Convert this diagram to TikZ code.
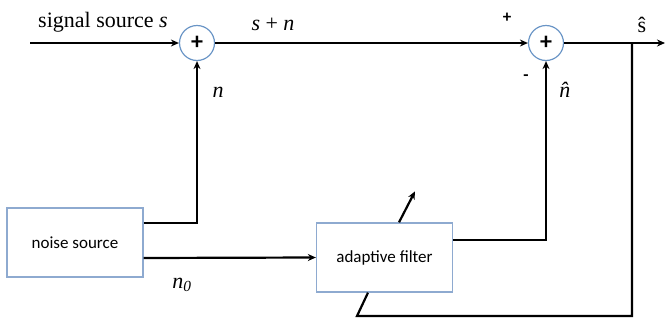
\documentclass[tikz,border=0pt]{standalone}
\usepackage{fontspec}
\setmainfont{Liberation Serif}
\newfontfamily\boxfont{Carlito}
\usetikzlibrary{arrows.meta}
\definecolor{rimblue}{HTML}{6A95C6}
\definecolor{boxblue}{HTML}{8EAAD0}
\tikzset{
  sumnode/.style={circle, draw=rimblue, line width=1.2pt, minimum size=35pt, inner sep=0pt,
    font=\boxfont\bfseries\fontsize{24}{24}\selectfont},
  block/.style={draw=boxblue, line width=1.3pt, minimum width=136pt, minimum height=69pt,
    font=\boxfont\fontsize{17}{17}\selectfont},
  wire/.style={line width=2.2pt},
  lbl/.style={font=\fontsize{22}{22}\selectfont, inner sep=0pt},
  sign/.style={font=\boxfont\bfseries\fontsize{17}{17}\selectfont, inner sep=0pt},
}
\begin{document}
\begin{tikzpicture}[x=1pt, y=-1pt, >={Stealth[length=8pt,width=7pt]}]
  \useasboundingbox (0,0) rectangle (665,322);
  % blocks
  \node[sumnode] (sumA) at (197,43) {+};
  \node[sumnode] (sumB) at (546,43) {+};
  \node[block] (noise) at (75,242.5) {noise source};
  \node[block] (filter) at (384.5,257.5) {adaptive filter};
  \coordinate (in) at (30,43);
  \coordinate (out) at (665,43);
  \coordinate (tap) at (632,43);
  \coordinate (fbend) at (357,316);
  % signal path
  \draw[wire,->] (in) -- (sumA);
  \draw[wire,->] (sumA) -- (sumB);
  \draw[wire,->] (sumB) -- (out);
  % noise paths
  \draw[wire,->] ([yshift=19.5pt]noise.east) -| (sumA);
  \draw[wire,->] ([yshift=-15.5pt]noise.east) -- (filter.west);
  \draw[wire,->] ([yshift=17.5pt]filter.east) -| (sumB);
  % error feedback
  \draw[wire] (tap) |- (fbend) -- ([xshift=-16.5pt]filter.south);
  \draw[wire,->] ([xshift=14.5pt]filter.north) -- ++(16,-31);
  % labels
  \node[lbl] (sig) at (103,22.5) {signal source \textit{s}};
  \node[lbl] (sum) at (273,24) {\textit{s} + \textit{n}};
  \node[lbl] (nlbl) at (218,92) {\textit{n}};
  \node[sign] (plus) at (507,18) {+};
  \node[sign] (minus) at (526,78) {-};
  \node[lbl] (nhat) at (569,90) {\textit{\^{n}}};
  \node[lbl] (shat) at (642,25) {\^{s}};
  \node[lbl] (nzero) at (182,285) {\textit{n}\textsubscript{\textit{0}}};
\end{tikzpicture}
\end{document}
